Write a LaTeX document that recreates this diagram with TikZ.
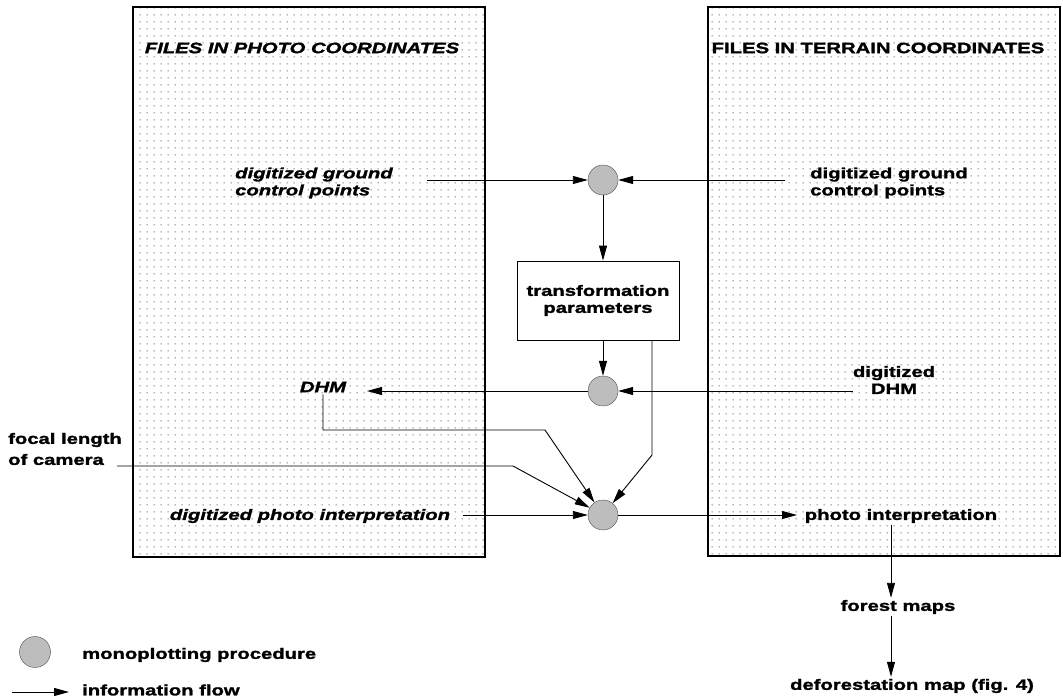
\documentclass[tikz,border=0pt]{standalone}
\usepackage{fontspec}
\setmainfont{Liberation Sans}[FakeStretch=1.35,BoldFeatures={FakeBold=1.6},BoldItalicFeatures={FakeBold=1.6}]
\usetikzlibrary{arrows.meta,patterns,calc}
\definecolor{dotgray}{HTML}{5A5A5A}
\definecolor{procgray}{HTML}{BDBDBD}
\pgfdeclarepatternformonly{filedots}{\pgfpointorigin}{\pgfqpoint{6.5pt}{6.5pt}}{\pgfqpoint{6.5pt}{6.5pt}}{\pgfpathrectangle{\pgfqpoint{2.7pt}{2.7pt}}{\pgfqpoint{1.1pt}{1.1pt}}\pgfusepath{fill}}

\begin{document}
\begin{tikzpicture}[x=1pt,y=-1pt,font=\fontsize{15}{17}\selectfont\bfseries,
  filebox/.style={draw,line width=1.3pt,pattern=filedots,pattern color=dotgray,inner sep=0pt},
  proc/.style={circle,draw=black!70,fill=procgray,minimum size=30pt,inner sep=0pt},
  txt/.style={inner sep=2pt},
  flow/.style={-{Triangle[length=15pt,width=8pt]},line width=0.9pt}]
\useasboundingbox (0,0) rectangle (1063,700);
% file boxes
\node[filebox,minimum width=352pt,minimum height=550pt] (photofiles) at (309,282) {};
\node[filebox,minimum width=352pt,minimum height=549pt] (terrainfiles) at (884,281.5) {};
\node[txt] (phototitle) at (302,48) {\itshape FILES IN PHOTO COORDINATES};
\node[txt] (terraintitle) at (878,48) {FILES IN TERRAIN COORDINATES};
% texts
\node[txt,anchor=west,align=left] (gcpphoto) at (233,183) {\itshape digitized ground\\\itshape control points};
\node[txt,anchor=west,align=left] (gcpterrain) at (808,183) {digitized ground\\control points};
\node[draw,line width=0.8pt,minimum width=162pt,minimum height=79pt,align=center] (trans) at (598,300.5) {transformation\\parameters};
\node[txt,align=center] (dhmterrain) at (894,380) {digitized\\DHM};
\node[txt] (dhmphoto) at (323,387) {\itshape DHM};
\node[txt,anchor=west,align=left] (focal) at (6,449) {focal length\\[4pt]of camera};
\node[txt] (dpi) at (310,516) {\itshape digitized photo interpretation};
\node[txt] (pi) at (901,516) {photo interpretation};
\node[txt] (forest) at (898,607) {forest maps};
\node[txt] (defo) at (912,686) {deforestation map (fig. 4)};
% monoplotting procedures
\node[proc] (m1) at (603,180) {};
\node[proc] (m2) at (603,391) {};
\node[proc] (m3) at (603,515) {};
% free ends and bends
\coordinate (gcpin) at (427,180);
\coordinate (gcpout) at (785,180);
\coordinate (dhmout) at (853,391);
\coordinate (dhmin) at (367,391);
\coordinate (dhmbend) at (545,430);
\coordinate (focalout) at (117,466);
\coordinate (focalbend) at (513,466);
\coordinate (dpiout) at (463,515);
\coordinate (transbend) at (652,455);
\coordinate (piin) at (797,515);
% information flow
\draw[flow] (gcpin) -- (m1);
\draw[flow] (gcpout) -- (m1);
\draw[flow] (m1) -- (m1 |- trans.north);
\draw[flow] (m2 |- trans.south) -- (m2);
\draw[flow] (dhmout) -- (m2);
\draw[flow] (m2) -- (dhmin);
\draw[flow] (dhmphoto.south) |- (dhmbend) -- (m3);
\draw[flow] (focalout) -- (focalbend) -- (m3);
\draw[flow] (dpiout) -- (m3);
\draw[flow] (trans.south -| transbend) -- (transbend) -- (m3);
\draw[flow] (m3) -- (piin);
\draw[flow] (pi.south -| 891,0) -- (forest.north -| 891,0);
\draw[flow] (forest.south -| 891,0) -- (defo.north -| 891,0);
% legend
\node[proc,minimum size=31pt] (legproc) at (35,652) {};
\node[txt,anchor=west] (legproctxt) at (80,655) {monoplotting procedure};
\coordinate (legfrom) at (12,692);
\coordinate (legto) at (69,692);
\node[txt,anchor=west] (legflowtxt) at (80,690) {information flow};
\draw[flow] (legfrom) -- (legto);
\end{tikzpicture}
\end{document}
